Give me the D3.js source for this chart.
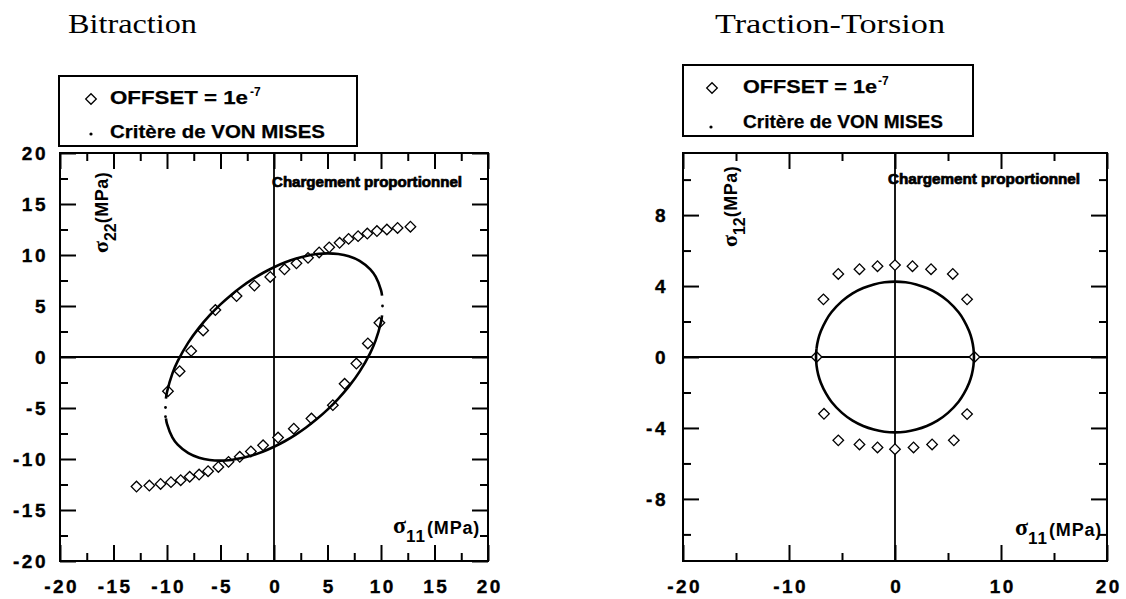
<!DOCTYPE html>
<html><head><meta charset="utf-8">
<script src="https://cdn.jsdelivr.net/npm/d3@7"></script>
<style>
html,body{margin:0;padding:0;background:#fff;}
svg{display:block;}
</style></head><body>
<svg id="chart" width="1126" height="599"></svg>
<script>
// ---------- Tick values ----------
const bitTicks = [-20, -15, -10, -5, 0, 5, 10, 15, 20];
const bitMinorTicks = [-17.5, -12.5, -7.5, -2.5, 2.5, 7.5, 12.5, 17.5];
const ttS11Ticks = [-20, -10, 0, 10, 20];
const ttS11MinorTicks = [-15, -5, 5, 15];
const ttS12Ticks = [-8, -4, 0, 4, 8];
const ttS12MinorTicks = [-10, -6, -2, 2, 6, 10];

// ---------- Bitraction : OFFSET = 1e-7 (diamonds) ----------
const bitOffsetS11 = [-9.91, -8.82, -7.74, -6.62, -5.48, -3.5, -1.83, -0.35, 0.98, 2.1, 3.18, 4.22, 5.16, 6.13, 6.97, 7.86, 8.72, 9.62, 10.55, 11.55, 12.75,
                      9.85, 8.77, 7.7, 6.6, 5.5, 3.5, 1.85, 0.38, -1.02, -2.16, -3.2, -4.25, -5.2, -6.16, -7.0, -7.88, -8.72, -9.63, -10.6, -11.65, -12.85];
const bitOffsetS22 = [-3.35, -1.39, 0.6, 2.6, 4.6, 5.98, 7.0, 7.85, 8.6, 9.18, 9.72, 10.25, 10.75, 11.2, 11.58, 11.85, 12.1, 12.35, 12.5, 12.65, 12.77,
                      3.35, 1.33, -0.64, -2.63, -4.72, -6.03, -7.03, -7.9, -8.66, -9.26, -9.78, -10.28, -10.78, -11.2, -11.52, -11.74, -12.08, -12.27, -12.45, -12.6, -12.7];

// ---------- Bitraction : critère de Von Mises ----------
const bitVmS11 = [-10.1, -10, -9.5, -9, -8, -7, -6, -5, -4, -3, -2, -1, 0, 1, 2, 3, 4, 5, 6, 7, 8, 9, 9.5, 10, 10.1];
const bitVmUpper = [-4.08, -3.44, -1.63, -0.41, 1.43, 2.88, 4.10, 5.16, 6.09, 6.91, 7.63, 8.26, 8.8, 9.26, 9.63, 9.91, 10.09, 10.16, 10.10, 9.88, 9.43, 8.59, 7.87, 6.56, 6.02];
const bitVmLower = [-6.02, -6.56, -7.87, -8.59, -9.43, -9.88, -10.10, -10.16, -10.09, -9.91, -9.63, -9.26, -8.8, -8.26, -7.63, -6.91, -6.09, -5.16, -4.10, -2.88, -1.43, 0.41, 1.63, 3.44, 4.08];
const bitVmDotS11 = [-10.14, -10.14, 10.14];
const bitVmDotS22 = [-4.95, -5.85, 5.0];

// ---------- Traction-Torsion : OFFSET = 1e-7 (diamonds) ----------
const ttOffsetS11 = [0, 1.65, 3.4, 5.45, 6.8, 7.5, 6.8, 5.55, 3.5, 1.75, 0, -1.65, -3.35, -5.35, -6.7, -7.4, -6.75, -5.35, -3.35, -1.65];
const ttOffsetS12 = [5.18, 5.12, 4.95, 4.68, 3.25, 0, -3.22, -4.7, -4.93, -5.1, -5.2, -5.1, -4.93, -4.7, -3.2, 0, 3.25, 4.68, 4.95, 5.12];

// ---------- Traction-Torsion : critère de Von Mises ----------
const ttVmS11 = [-7.45, -7.4, -7.25, -7, -6.5, -6, -5, -4, -3, -2, -1, 0, 1, 2, 3, 4, 5, 6, 6.5, 7, 7.25, 7.4,
                 7.45, 7.4, 7.25, 7, 6.5, 6, 5, 4, 3, 2, 1, 0, -1, -2, -3, -4, -5, -6, -6.5, -7, -7.25, -7.4];
const ttVmS12 = [0, 0.49, 0.98, 1.45, 2.07, 2.52, 3.15, 3.59, 3.89, 4.09, 4.21, 4.25, 4.21, 4.09, 3.89, 3.59, 3.15, 2.52, 2.07, 1.45, 0.98, 0.49,
                 0, -0.49, -0.98, -1.45, -2.07, -2.52, -3.15, -3.59, -3.89, -4.09, -4.21, -4.25, -4.21, -4.09, -3.89, -3.59, -3.15, -2.52, -2.07, -1.45, -0.98, -0.49];

// ---------- Texts ----------
const titles = ["Bitraction", "Traction-Torsion"];
const legendOffset = "OFFSET = 1e";
const legendOffsetSup = "-7";
const legendVm = "Critère de VON MISES";
const noteText = "Chargement proportionnel";

const svg = d3.select("#chart");
const SANS = "'Liberation Sans', Arial, sans-serif";
const SERIF = "'Liberation Serif', 'Times New Roman', serif";
const tickFmt = d => String(d);

function drawPanel(cfg) {
  const g = svg.append("g");
  const x = d3.scaleLinear().domain(cfg.xDomain).range(cfg.xRange);
  const y = d3.scaleLinear().domain(cfg.yDomain).range(cfg.yRange);
  const [xl, xr] = cfg.xRange, [yb, yt] = cfg.yRange;

  function styleAxis(sel, withText) {
    sel.select(".domain").remove();
    sel.selectAll(".tick line").attr("stroke", "#000").attr("stroke-width", 2);
    if (withText) {
      sel.selectAll(".tick text")
        .attr("fill", "#000").attr("stroke", "#000").attr("stroke-width", 0.35)
        .style("font-family", SANS).style("font-weight", "bold")
        .style("font-size", "19px").style("letter-spacing", "2.5px");
    } else sel.selectAll(".tick text").remove();
  }
  const maj = 16, mnr = 8;
  // bottom
  g.append("g").attr("transform", `translate(0,${yb})`)
    .call(d3.axisBottom(x).tickValues(cfg.xTicks).tickSizeInner(-maj).tickSizeOuter(0).tickPadding(19).tickFormat(tickFmt))
    .call(s => styleAxis(s, true))
    .selectAll(".tick text").attr("dx", "1.2px");
  g.append("g").attr("transform", `translate(0,${yb})`)
    .call(d3.axisBottom(x).tickValues(cfg.xMinor).tickSizeInner(-mnr).tickSizeOuter(0).tickFormat(() => ""))
    .call(s => styleAxis(s, false));
  // top
  g.append("g").attr("transform", `translate(0,${yt})`)
    .call(d3.axisTop(x).tickValues(cfg.xTicks).tickSizeInner(-maj).tickSizeOuter(0).tickFormat(() => ""))
    .call(s => styleAxis(s, false));
  g.append("g").attr("transform", `translate(0,${yt})`)
    .call(d3.axisTop(x).tickValues(cfg.xMinor).tickSizeInner(-mnr).tickSizeOuter(0).tickFormat(() => ""))
    .call(s => styleAxis(s, false));
  // left
  g.append("g").attr("transform", `translate(${xl},0)`)
    .call(d3.axisLeft(y).tickValues(cfg.yTicks).tickSizeInner(-maj).tickSizeOuter(0).tickPadding(cfg.yPad).tickFormat(tickFmt))
    .call(s => styleAxis(s, true));
  g.append("g").attr("transform", `translate(${xl},0)`)
    .call(d3.axisLeft(y).tickValues(cfg.yMinor).tickSizeInner(-mnr).tickSizeOuter(0).tickFormat(() => ""))
    .call(s => styleAxis(s, false));
  // right
  g.append("g").attr("transform", `translate(${xr},0)`)
    .call(d3.axisRight(y).tickValues(cfg.yTicks).tickSizeInner(-maj).tickSizeOuter(0).tickFormat(() => ""))
    .call(s => styleAxis(s, false));
  g.append("g").attr("transform", `translate(${xr},0)`)
    .call(d3.axisRight(y).tickValues(cfg.yMinor).tickSizeInner(-mnr).tickSizeOuter(0).tickFormat(() => ""))
    .call(s => styleAxis(s, false));

  // frame
  g.append("rect").attr("x", xl).attr("y", yt).attr("width", xr - xl).attr("height", yb - yt)
    .attr("fill", "none").attr("stroke", "#000").attr("stroke-width", 2);
  // cross axes through origin
  g.append("line").attr("x1", x(0)).attr("x2", x(0)).attr("y1", yt).attr("y2", yb)
    .attr("stroke", "#000").attr("stroke-width", 1.8);
  g.append("line").attr("x1", xl).attr("x2", xr).attr("y1", y(0)).attr("y2", y(0))
    .attr("stroke", "#000").attr("stroke-width", 1.8);

  // diamonds
  const diamond = d3.symbol(d3.symbolSquare, 56);
  g.append("g").selectAll("path").data(cfg.offX.map((v, i) => [v, cfg.offY[i]])).join("path")
    .attr("d", diamond)
    .attr("transform", d => `translate(${x(d[0])},${y(d[1])}) rotate(45)`)
    .attr("fill", "#fff").attr("stroke", "#000").attr("stroke-width", 1.3);

  // Von Mises curves
  const line = d3.line().x(d => x(d[0])).y(d => y(d[1])).curve(cfg.closed ? d3.curveCatmullRomClosed : d3.curveCatmullRom);
  cfg.curves.forEach(c => {
    g.append("path").attr("d", line(c.xs.map((v, i) => [v, c.ys[i]])))
      .attr("fill", "none").attr("stroke", "#000").attr("stroke-width", 2.6).attr("stroke-linejoin", "round");
  });
  if (cfg.dotX) {
    g.append("g").selectAll("circle").data(cfg.dotX.map((v, i) => [v, cfg.dotY[i]])).join("circle")
      .attr("cx", d => x(d[0])).attr("cy", d => y(d[1])).attr("r", 1.4).attr("fill", "#000");
  }

  // note
  g.append("text").attr("x", cfg.note[0]).attr("y", cfg.note[1]).text(noteText)
    .attr("textLength", cfg.note[2]).attr("lengthAdjust", "spacingAndGlyphs")
    .style("font-family", SANS).style("font-weight", "bold").style("font-size", "14px")
    .attr("stroke", "#000").attr("stroke-width", 0.7).attr("fill", "#000");

  // title
  svg.append("text").attr("x", cfg.title[0]).attr("y", cfg.title[1]).text(cfg.titleText)
    .attr("textLength", cfg.title[2]).attr("lengthAdjust", "spacingAndGlyphs")
    .style("font-family", SERIF).style("font-size", "27px").attr("fill", "#000");

  // legend
  const L = cfg.legend;
  svg.append("rect").attr("x", L.box[0]).attr("y", L.box[1]).attr("width", L.box[2]).attr("height", L.box[3])
    .attr("fill", "#fff").attr("stroke", "#000").attr("stroke-width", 2);
  svg.append("path").attr("d", diamond).attr("transform", `translate(${L.sym[0]},${L.sym[1]}) rotate(45)`)
    .attr("fill", "#fff").attr("stroke", "#000").attr("stroke-width", 1.3);
  svg.append("circle").attr("cx", L.dot[0]).attr("cy", L.dot[1]).attr("r", 1.6).attr("fill", "#000");
  svg.append("text").attr("x", L.t1[0]).attr("y", L.t1[1]).text(legendOffset)
    .attr("textLength", L.t1[2]).attr("lengthAdjust", "spacingAndGlyphs")
    .attr("stroke", "#000").attr("stroke-width", 0.25)
    .style("font-family", SANS).style("font-weight", "bold").style("font-size", "18px");
  svg.append("text").attr("x", L.sup[0]).attr("y", L.sup[1]).text(legendOffsetSup)
    .style("font-family", SANS).style("font-weight", "bold").style("font-size", "12px");
  svg.append("text").attr("x", L.t2[0]).attr("y", L.t2[1]).text(legendVm)
    .attr("textLength", L.t2[2]).attr("lengthAdjust", "spacingAndGlyphs")
    .attr("stroke", "#000").attr("stroke-width", 0.25)
    .style("font-family", SANS).style("font-weight", "bold").style("font-size", "18px");

  // x axis label  σ11 (MPa)
  const xl_ = svg.append("text").attr("x", cfg.xLab[0]).attr("y", cfg.xLab[1]).attr("fill", "#000");
  xl_.append("tspan").text("σ").style("font-family", SERIF).style("font-weight", "bold").style("font-size", "24px");
  xl_.append("tspan").text("11").attr("dy", 9).style("font-family", SANS).style("font-weight", "bold").style("font-size", "17px").style("letter-spacing", "1px");
  xl_.append("tspan").text("(MPa)").attr("dy", -8).attr("dx", 1).style("font-family", SANS).style("font-weight", "bold").style("font-size", "18px").style("letter-spacing", "0.8px");

  // y axis label
  const yl_ = svg.append("text").attr("transform", `translate(${cfg.yLab[0]},${cfg.yLab[1]}) rotate(-90)`).attr("fill", "#000");
  yl_.append("tspan").text("σ").style("font-family", SERIF).style("font-weight", "bold").style("font-size", "22px");
  yl_.append("tspan").text(cfg.ySub).attr("dy", 8).style("font-family", SANS).style("font-weight", "bold").style("font-size", "16px");
  yl_.append("tspan").text("(MPa)").attr("dy", -8).style("font-family", SANS).style("font-weight", "bold").style("font-size", "18px").style("letter-spacing", "0.5px");
}

drawPanel({
  xDomain: [-20, 20], xRange: [60, 488], yDomain: [-20, 20], yRange: [561, 153],
  xTicks: bitTicks, xMinor: bitMinorTicks, yTicks: bitTicks, yMinor: bitMinorTicks, yPad: 12,
  offX: bitOffsetS11, offY: bitOffsetS22,
  curves: [{xs: bitVmS11, ys: bitVmUpper}, {xs: bitVmS11, ys: bitVmLower}],
  dotX: bitVmDotS11, dotY: bitVmDotS22, closed: false,
  note: [272, 187, 190],
  titleText: titles[0], title: [68, 33, 129],
  legend: {box: [59, 76, 298, 70], sym: [91, 99], dot: [91, 134], t1: [110, 104, 138], sup: [250, 96], t2: [110, 138, 215]},
  xLab: [393, 533], yLab: [108, 253], ySub: "22"
});
drawPanel({
  xDomain: [-20, 20], xRange: [683, 1107], yDomain: [-11.5, 11.5], yRange: [561, 153],
  xTicks: ttS11Ticks, xMinor: ttS11MinorTicks, yTicks: ttS12Ticks, yMinor: ttS12MinorTicks, yPad: 15,
  offX: ttOffsetS11, offY: ttOffsetS12,
  curves: [{xs: ttVmS11, ys: ttVmS12}], closed: true,
  note: [888, 184, 192],
  titleText: titles[1], title: [715, 33, 230],
  legend: {box: [683, 65, 290, 71], sym: [712, 88], dot: [711, 127], t1: [743, 93, 134], sup: [878, 85], t2: [743, 128, 200]},
  xLab: [1015, 535], yLab: [737, 247], ySub: "12"
});
</script>
</body></html>
